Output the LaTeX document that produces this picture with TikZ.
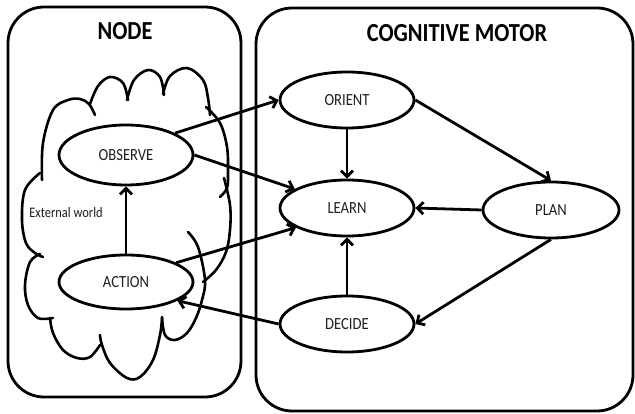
\documentclass[tikz,border=0pt]{standalone}
\usepackage{fontspec}
\setmainfont{Carlito}[FakeStretch=0.86]
\usetikzlibrary{shapes.geometric,arrows.meta}
\begin{document}
\begin{tikzpicture}[x=1pt,y=-1pt,
  panel/.style={draw, line width=2.8pt, rounded corners=36pt},
  stage/.style={draw, ellipse, line width=2.8pt, minimum width=134pt, minimum height=56pt,
    inner sep=0pt, font=\fontsize{17}{20}\selectfont, text=black!88},
  flow/.style={-{Straight Barb[length=6pt,width=12pt]}, line width=2.8pt},
  title/.style={font=\bfseries\fontsize{26}{30}\selectfont, text=black},
  puff/.style={line width=2.6pt, line cap=round, smooth, tension=0.6}
]
\useasboundingbox (0,0) rectangle (635,414);
\fill[white] (0,0) rectangle (635,414);

% the two panels
\draw[panel] (8,7) rectangle (241,397);
\draw[panel] (256,8) rectangle (633,411);
\node[title] (nodetitle) at (125,31) {NODE};
\node[title] (motortitle) at (457,33) {COGNITIVE MOTOR};

% the external world cloud, drawn lobe by lobe
\draw[puff] plot coordinates {(42,180) (43,143) (53,110) (68,100) (80,99) (89,104) (95,115)};
\draw[puff] plot coordinates {(90,104) (98,86) (110,77) (123,83) (128,100)};
\draw[puff] plot coordinates {(127,100) (134,80) (148,70) (160,77) (164,95)};
\draw[puff] plot coordinates {(163,94) (170,76) (187,68) (203,80) (208,98) (210,115)};
\draw[puff] plot coordinates {(206,107) (220,123) (227,147) (228,172) (227,188) (220,197)};
\draw[puff] plot coordinates {(224,178) (230,205) (230,230) (226,252) (216,270) (203,282)};
\draw[puff] plot coordinates {(188,232) (198,247) (205,280) (202,300) (196,318) (187,333) (175,340) (165,335) (162,317)};
\draw[puff] plot coordinates {(162,318) (160,335) (153,360) (140,377) (127,378) (110,363) (102,345) (100,335)};
\draw[puff] plot coordinates {(100,345) (90,357) (77,358) (63,350) (53,333) (50,318)};
\draw[puff] plot coordinates {(40,254) (30,262) (25,285) (28,305) (38,318) (53,318)};
\draw[puff] plot coordinates {(40,173) (25,190) (22,220) (26,243) (35,253) (43,257)};
\node[font=\fontsize{14.5}{17}\selectfont, text=black!88] (world) at (66,213) {External world};

% stages
\node[stage, minimum height=60pt] (obs) at (126,155) {OBSERVE};
\node[stage, minimum height=54pt] (act) at (126,282) {ACTION};
\node[stage] (ori) at (347,100) {ORIENT};
\node[stage] (lrn) at (347,208) {LEARN};
\node[stage, minimum width=136pt] (pln) at (551,210) {PLAN};
\node[stage] (dec) at (347,324) {DECIDE};

% connectors
\draw[flow] (act.north) -- (obs.south);
\draw[flow] (obs.24) -- (ori.west);
\draw[flow] (obs.east) -- (lrn.160);
\draw[flow] (act.21) -- (lrn.201);
\draw[flow] (dec.west) -- (act.-20);
\draw[flow] (ori.south) -- (lrn.north);
\draw[flow] (dec.north) -- (lrn.south);
\draw[flow] (ori.east) -- (pln.north);
\draw[flow] (pln.west) -- (lrn.east);
\draw[flow] (pln.south) -- (dec.east);
\end{tikzpicture}
\end{document}
